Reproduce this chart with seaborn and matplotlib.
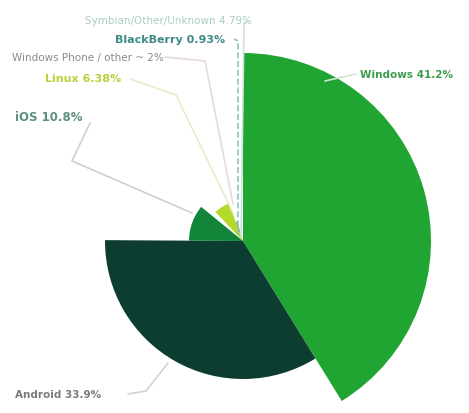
import matplotlib
matplotlib.use("Agg")
import matplotlib.pyplot as plt
import seaborn as sns

sns.set_theme(style="white")
plt.rcParams['font.family'] = ['DejaVu Sans']

# ---- data ----
categories = ["Windows", "Android", "iOS", "Windows Phone / other", "Linux",
              "BlackBerry", "Symbian/Other/Unknown"]
shares = [41.2, 33.9, 10.8, 2.0, 6.38, 0.93, 4.79]
labels = ["Windows 41.2%", "Android 33.9%", "iOS 10.8%", "Windows Phone / other ~ 2%",
          "Linux 6.38%", "BlackBerry 0.93%", "Symbian/Other/Unknown 4.79%"]

# ---- style ----
colors = ["#20a532", "#0d3d30", "#12853a", "#ffffff", "#b4d92b", "#2f7f7a", "#ffffff"]
outer_radius = [188, 138, 54, 30, 40, 20, 30]
label_colors = ["#3c9c4c", "#7c7c7c", "#5f8f80", "#8a8a8a", "#b7d23c", "#3f8a85", "#a9cdc6"]
label_xy = [(360, 75), (15, 395), (15, 118), (12, 58), (45, 79), (115, 40), (85, 21)]
line_paths = [
    [(325, 82), (356, 75)],
    [(168, 364), (146, 392), (128, 395)],
    [(192, 214), (72, 162), (90, 124)],
    [(233, 205), (205, 62), (165, 58)],
    [(233, 214), (176, 96), (130, 80)],
    [(238, 236), (238, 42), (234, 40)],
    [(241, 238), (244, 24), (248, 22)],
]
line_colors = ["#cfe6d2", "#d0d4d2", "#c9d2cd", "#e8d8e4", "#e7ecc9", "#8fc3c4", "#cfe3df"]
line_styles = ["-", "-", "-", "-", "-", "--", "-"]

fig = plt.figure(figsize=(4.69, 4.14), dpi=100)
ax = fig.add_axes([0, 0, 1, 1])
wedges, _ = ax.pie(shares, colors=colors, startangle=90, counterclock=False,
                   center=(243, -242), radius=100, frame=False,
                   wedgeprops=dict(linewidth=0))
for w, r in zip(wedges, outer_radius):
    w.set_radius(r)
order = [6, 5, 3, 0, 1, 2, 4]
for z, i in enumerate(order):
    wedges[i].set_zorder(1 + z)

for path, lc, ls in zip(line_paths, line_colors, line_styles):
    xs = [p[0] for p in path]
    ys = [-p[1] for p in path]
    ax.plot(xs, ys, color=lc, lw=1.2, ls=ls, zorder=10)

bold = [True, True, True, False, True, True, False]
sizes = [7.5, 7.5, 8.5, 7.5, 8, 8, 7.5]
for lab, (x, y), c, b, s in zip(labels, label_xy, label_colors, bold, sizes):
    ax.text(x, -y, lab, color=c, fontsize=s, fontweight="bold" if b else "normal",
            ha="left", va="center", zorder=11)

ax.set_xlim(0, 469)
ax.set_ylim(-414, 0)
ax.set_aspect("auto")
ax.axis("off")
fig.savefig("out.png", dpi=100)
